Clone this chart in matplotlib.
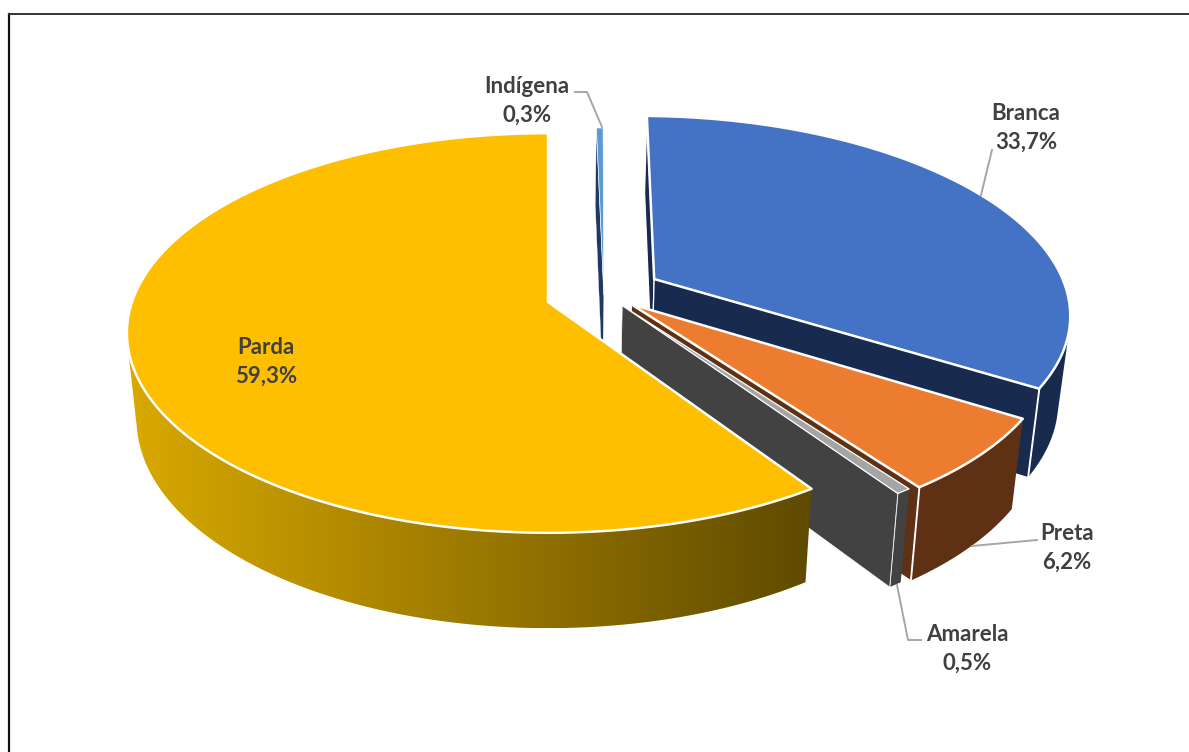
import numpy as np
import matplotlib
matplotlib.use("Agg")
import matplotlib.pyplot as plt
from matplotlib.colors import LinearSegmentedColormap
from matplotlib.patches import Polygon

# Pie slices, clockwise from twelve o'clock
categories = ["Indígena", "Branca", "Preta", "Amarela", "Parda"]
values = [0.3, 33.7, 6.2, 0.5, 59.3]

top_colors = ["#5B9BD5", "#4472C4", "#EC7C30", "#A5A5A5", "#FDBF00"]
side_colors = ["#1F3864", "#182B4F", "#5F3114", "#424242", None]
edge_widths = [0.5, 1.8, 1.8, 0.9, 1.8]

# Explosion of each slice, in units of the pie radius (right, away from viewer)
offsets = [(0.135, 0.036), (0.26, 0.12), (0.2, -0.012), (0.178, -0.018), (0.0, 0.0)]

label_pos = [(527, 101), (1026, 128), (1067, 548), (967, 649), (266, 362)]
leaders = [
    [(575, 92), (587, 92), (602, 127)],
    [(992, 150), (981, 195)],
    [(1037, 540), (972, 546)],
    [(897, 585), (908, 640), (921, 640)],
]

CX, CY = 548, 302        # pie centre on the page
RX, RY = 416, 195        # ellipse radii before perspective
PERSP = 0.155            # how much the far side shrinks
LOWER_XSCALE = 0.977     # bottom face narrows a little
LOWER_YSCALE = 1.045     # and its near edge drops more than its far edge
LOWER_DROP = 85          # thickness of the pie at its centre, in pixels


def project(theta, r, ox, oy, lower=False):
    u = ox + r * np.sin(theta)
    v = oy + r * np.cos(theta)
    d = 1 + PERSP * v
    x = RX * u / d
    y = -RY * v / d
    if lower:
        x = x * LOWER_XSCALE
        y = y * LOWER_YSCALE + LOWER_DROP
    return np.column_stack([CX + x, CY + y])


def face_visible(theta, ox, oy, clockwise_side):
    # radial wall: can the viewer, in front of the pie, see its outer side?
    sign = 1 if clockwise_side else -1
    nx, ny = sign * np.cos(theta), -sign * np.sin(theta)
    return nx * (0 - ox) + ny * (-1 / PERSP - oy) > 0


def front_arc(arc, ox, oy):
    # keep the part of the rim whose extruded wall turns toward the viewer
    upper = project(arc, 1, ox, oy)
    lower = project(arc, 1, ox, oy, True)
    tangent = np.gradient(upper, axis=0)
    sweep = lower - upper
    return arc[tangent[:, 0] * sweep[:, 1] - tangent[:, 1] * sweep[:, 0] < 0]


fig = plt.figure(figsize=(11.89, 7.52), dpi=100)
ax = fig.add_axes([0, 0, 1, 1])

gold_shade = LinearSegmentedColormap.from_list("gold_shade", ["#D9A900", "#5F4A00"])

z = 2
edges = np.deg2rad(np.cumsum([0] + values) * 3.6)
for i, name in enumerate(categories):
    t0, t1 = edges[i], edges[i + 1]
    ox, oy = offsets[i]
    arc = np.linspace(t0, t1, 400)
    lw = edge_widths[i]

    # outer wall
    front = front_arc(arc, ox, oy)
    if len(front) > 1:
        band = np.vstack([project(front, 1, ox, oy), project(front[::-1], 1, ox, oy, True)])
        if side_colors[i] is None:
            clip = Polygon(band, closed=True, fc="none", ec="none", transform=ax.transData)
            ax.add_patch(clip)
            x0, x1 = band[:, 0].min(), band[:, 0].max()
            y0, y1 = band[:, 1].min(), band[:, 1].max()
            img = ax.imshow(np.linspace(0, 1, 256).reshape(1, -1), cmap=gold_shade,
                            extent=[x0, x1, y1, y0], aspect="auto", zorder=z)
            img.set_clip_path(clip)
        else:
            ax.add_patch(Polygon(band, closed=True, fc=side_colors[i], ec="none", zorder=z))
            # light seam where the wall meets the radial cut
            seam = np.vstack([project(np.array([t1]), 1, ox, oy),
                              project(np.array([t1]), 1, ox, oy, True)])
            ax.plot(seam[:, 0], seam[:, 1], color="white", lw=lw, zorder=z + 0.5)
    z += 1

    # radial walls that face the viewer
    for theta, cw_side in ((t0, False), (t1, True)):
        if side_colors[i] is not None and face_visible(theta, ox, oy, cw_side):
            th = np.array([theta])
            wall = np.vstack([project(th * 0, 0, ox, oy), project(th, 1, ox, oy),
                              project(th, 1, ox, oy, True), project(th * 0, 0, ox, oy, True)])
            ax.add_patch(Polygon(wall, closed=True, fc=side_colors[i], ec="white",
                                 lw=lw * 0.5, zorder=z))
            z += 1

    # top surface
    top = np.vstack([project(np.array([0.0]), 0, ox, oy), project(arc, 1, ox, oy)])
    ax.add_patch(Polygon(top, closed=True, fc=top_colors[i], ec="white", lw=lw,
                         joinstyle="round", zorder=z))
    z += 1

for pts in leaders:
    xs, ys = zip(*pts)
    ax.plot(xs, ys, color="#A6A6A6", lw=1.4, zorder=z, solid_joinstyle="round")

for name, val, (lx, ly) in zip(categories, values, label_pos):
    txt = f"{name}\n{val:.1f}%".replace(".", ",")
    ax.text(lx, ly, txt, family="Lato", fontweight="bold", fontsize=16, color="#404040",
            ha="center", va="center", linespacing=1.46, zorder=z + 1)

# thin frame of the chart area
ax.plot([8.5, 8.5], [752, 14], color="#111111", lw=1.6, zorder=z)
ax.plot([8.5, 1189], [14, 14], color="#333333", lw=1.4, zorder=z)

ax.set_xlim(0, 1189)
ax.set_ylim(752, 0)
ax.axis("off")

fig.savefig("out.png", dpi=100, facecolor="white")
